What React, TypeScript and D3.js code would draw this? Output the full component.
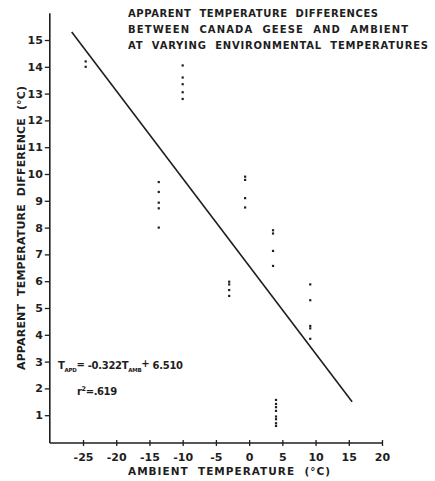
import React, { useEffect, useRef } from 'react';
import * as d3 from 'd3';

// ambient temperature of each group of readings (°C)
const groupAmbient = [-24.6, -13.6, -10, -3, -0.6, 3.6, 4.05, 9.2];
const groupDiff = [
  [14.2, 14.0],
  [9.7, 9.33, 8.93, 8.72, 8.0],
  [14.05, 13.6, 13.35, 13.05, 12.8],
  [5.98, 5.88, 5.67, 5.45],
  [9.9, 9.78, 9.1, 8.75],
  [7.9, 7.78, 7.13, 6.57],
  [1.57, 1.42, 1.3, 1.16, 0.95, 0.85, 0.7, 0.6],
  [5.88, 5.29, 4.33, 4.24, 3.85],
];

// regression line end points as drawn
const fitStart = { x: -26.7, y: 15.3 };
const fitEnd = { x: 15.5, y: 1.5 };

const xTicks = [-25, -20, -15, -10, -5, 0, 5, 10, 15, 20];
const yTicks = [1, 2, 3, 4, 5, 6, 7, 8, 9, 10, 11, 12, 13, 14, 15];

const titleLines = [
  'APPARENT  TEMPERATURE  DIFFERENCES',
  'BETWEEN  CANADA  GEESE  AND  AMBIENT',
  'AT  VARYING  ENVIRONMENTAL  TEMPERATURES',
];

const W = 435;
const H = 481;
const ink = '#1e1e1e';
const font = '"DejaVu Sans", sans-serif';

export default function App() {
  const xAxisRef = useRef<SVGGElement | null>(null);
  const yAxisRef = useRef<SVGGElement | null>(null);

  const x = d3.scaleLinear().domain([-30, 20]).range([49.8, 382]);
  const y = d3.scaleLinear().domain([0, 16]).range([442, 13.2]);

  const points = groupAmbient.flatMap((a, i) => groupDiff[i].map(d => ({ a, d })));

  const line = d3.line<{ x: number; y: number }>()
    .x(d => x(d.x))
    .y(d => y(d.y));

  useEffect(() => {
    const xAxis = d3.axisBottom(x)
      .tickValues(xTicks)
      .tickSize(3)
      .tickFormat(d => String(d));
    const gx = d3.select(xAxisRef.current);
    gx.call(xAxis);
    gx.select('.domain').remove();
    gx.selectAll('.tick line').attr('y1', -3).attr('stroke', ink).attr('stroke-width', 1.3);
    gx.selectAll('.tick text')
      .attr('y', 0)
      .attr('dy', 18)
      .attr('fill', ink)
      .style('font-family', font)
      .style('font-size', '11px')
      .style('font-weight', 'bold');

    const yAxis = d3.axisLeft(y)
      .tickValues(yTicks)
      .tickSize(5)
      .tickPadding(2)
      .tickFormat(d => String(d));
    const gy = d3.select(yAxisRef.current);
    gy.call(yAxis);
    gy.select('.domain').remove();
    gy.selectAll('.tick line').attr('stroke', ink).attr('stroke-width', 1.3);
    gy.selectAll('.tick text')
      .attr('fill', ink)
      .style('font-family', font)
      .style('font-size', '11px')
      .style('font-weight', 'bold');
  }, []);

  return (
    <svg
      width={W}
      height={H}
      style={{ position: 'absolute', left: 0, top: 0, background: '#fff' }}
    >
      {titleLines.map((t, i) => (
        <text
          key={i}
          x={128}
          y={17 + i * 16}
          fill={ink}
          fontFamily={font}
          fontWeight="bold"
          fontSize={10}
          textLength={[250, 280, 300][i]}
          lengthAdjust="spacing"
          style={{ whiteSpace: 'pre' }}
        >
          {t}
        </text>
      ))}

      {/* axis lines */}
      <line x1={x(-30)} x2={x(-30)} y1={y(16)} y2={443} stroke={ink} strokeWidth={1.6} />
      <line x1={x(-30)} x2={x(20)} y1={443} y2={443} stroke={ink} strokeWidth={1.6} />
      <g ref={xAxisRef} transform="translate(0,443)" />
      <g ref={yAxisRef} transform={`translate(${x(-30)},0)`} />

      <path d={line([fitStart, fitEnd]) ?? ''} stroke={ink} strokeWidth={1.6} fill="none" />

      {points.map((p, i) => (
        <rect key={i} x={x(p.a) - 1.1} y={y(p.d) - 1.1} width={2.2} height={2.2} fill={ink} />
      ))}

      <text
        x={229}
        y={475}
        textAnchor="middle"
        fill={ink}
        fontFamily={font}
        fontWeight="bold"
        fontSize={10.5}
        textLength={202}
        lengthAdjust="spacing"
        style={{ whiteSpace: 'pre' }}
      >
        {'AMBIENT  TEMPERATURE  (°C)'}
      </text>

      <text
        transform="translate(25,228) rotate(-90)"
        textAnchor="middle"
        fill={ink}
        fontFamily={font}
        fontWeight="bold"
        fontSize={11}
        textLength={284}
        lengthAdjust="spacing"
        style={{ whiteSpace: 'pre' }}
      >
        {'APPARENT  TEMPERATURE  DIFFERENCE  (°C)'}
      </text>

      <text x={58} y={369} fill={ink} fontFamily={font} fontWeight="bold" fontSize={10}
        letterSpacing={-0.3}>
        <tspan>T</tspan>
        <tspan fontSize={5.5} dy={3}>APD</tspan>
        <tspan dy={-4}>=</tspan>
        <tspan dy={1}> -0.322T</tspan>
        <tspan fontSize={5.5} dy={3}>AMB</tspan>
        <tspan dy={-5}>+</tspan>
        <tspan dy={2}> 6.510</tspan>
      </text>
      <text x={77} y={395} fill={ink} fontFamily={font} fontWeight="bold" fontSize={10}
        letterSpacing={-0.4}>
        <tspan>r</tspan>
        <tspan fontSize={6.5} dy={-4}>2</tspan>
        <tspan dy={4}>=.619</tspan>
      </text>
    </svg>
  );
}
